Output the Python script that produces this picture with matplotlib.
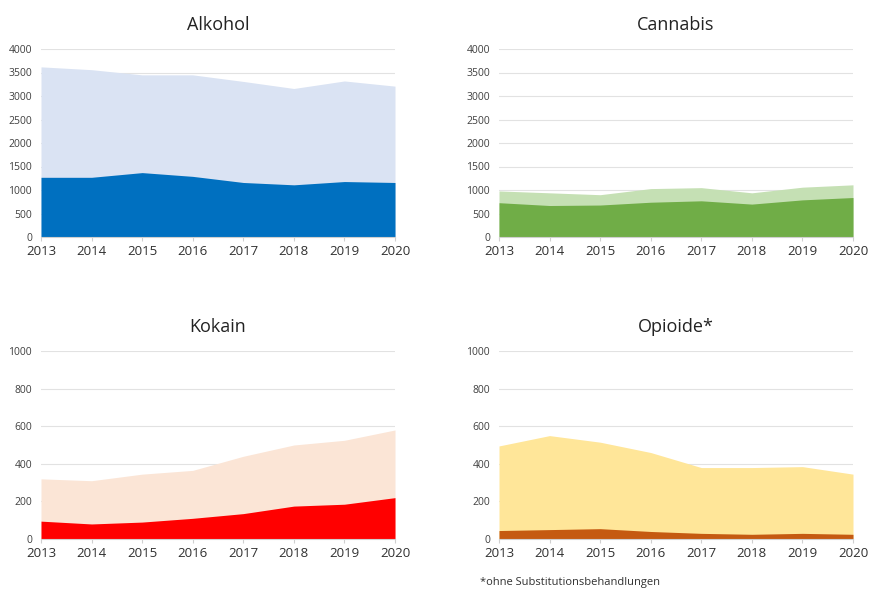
import matplotlib.pyplot as plt
from matplotlib.ticker import FixedLocator

plt.rcParams["font.family"] = ["Open Sans", "DejaVu Sans"]

years = [2013, 2014, 2015, 2016, 2017, 2018, 2019, 2020]

alkohol_total = [3620, 3560, 3450, 3450, 3310, 3160, 3320, 3210]
alkohol_part = [1270, 1270, 1370, 1290, 1160, 1110, 1180, 1160]

cannabis_total = [980, 940, 900, 1030, 1050, 940, 1060, 1110]
cannabis_part = [730, 670, 680, 740, 770, 700, 790, 840]

kokain_total = [320, 310, 345, 365, 440, 500, 525, 580]
kokain_part = [95, 80, 90, 110, 135, 175, 185, 220]

opioide_total = [495, 550, 515, 460, 380, 380, 385, 345]
opioide_part = [45, 50, 55, 40, 30, 25, 30, 25]

W, H = 879, 592


def panel(fig, rect_px, title, total, part, light, dark, ymax, ystep):
    x0, y0, x1, y1 = rect_px
    ax = fig.add_axes([x0 / W, 1 - y1 / H, (x1 - x0) / W, (y1 - y0) / H])
    ax.fill_between(years, 0, total, color=light, linewidth=0, zorder=2)
    ax.fill_between(years, 0, part, color=dark, linewidth=0, zorder=3)
    ax.set_xlim(years[0], years[-1])
    ax.set_ylim(0, ymax)
    ax.yaxis.set_major_locator(FixedLocator(list(range(0, ymax + 1, ystep))))
    ax.xaxis.set_major_locator(FixedLocator(years))
    ax.grid(axis="y", color="#e2e2e2", linewidth=0.8, zorder=0)
    ax.set_axisbelow(True)
    for b in ["left", "right", "top"]:
        ax.spines[b].set_visible(False)
    ax.spines["bottom"].set_color("#d0d0d0")
    ax.spines["bottom"].set_zorder(4)
    ax.tick_params(axis="y", length=0, labelsize=7.5, colors="#404040", pad=6.5)
    ax.tick_params(axis="x", length=3, color="#d0d0d0", labelsize=9.5,
                   colors="#303030", pad=3)
    ax.set_title(title, fontsize=13, color="#222222", pad=14)
    return ax


fig = plt.figure(figsize=(W / 100, H / 100), dpi=100, facecolor="white")

panel(fig, (41, 49, 395, 237), "Alkohol", alkohol_total, alkohol_part,
      "#dae3f3", "#0070c0", 4000, 500)
panel(fig, (499, 49, 853, 237), "Cannabis", cannabis_total, cannabis_part,
      "#c5e0b4", "#70ad47", 4000, 500)
panel(fig, (41, 351, 395, 539), "Kokain", kokain_total, kokain_part,
      "#fbe5d6", "#ff0000", 1000, 200)
panel(fig, (499, 351, 853, 539), "Opioide*", opioide_total, opioide_part,
      "#ffe699", "#c55a11", 1000, 200)

fig.text(480 / W, 1 - 583 / H, "*ohne Substitutionsbehandlungen",
         fontsize=8, color="#303030", va="center", ha="left")

fig.savefig("out.png", dpi=100)
